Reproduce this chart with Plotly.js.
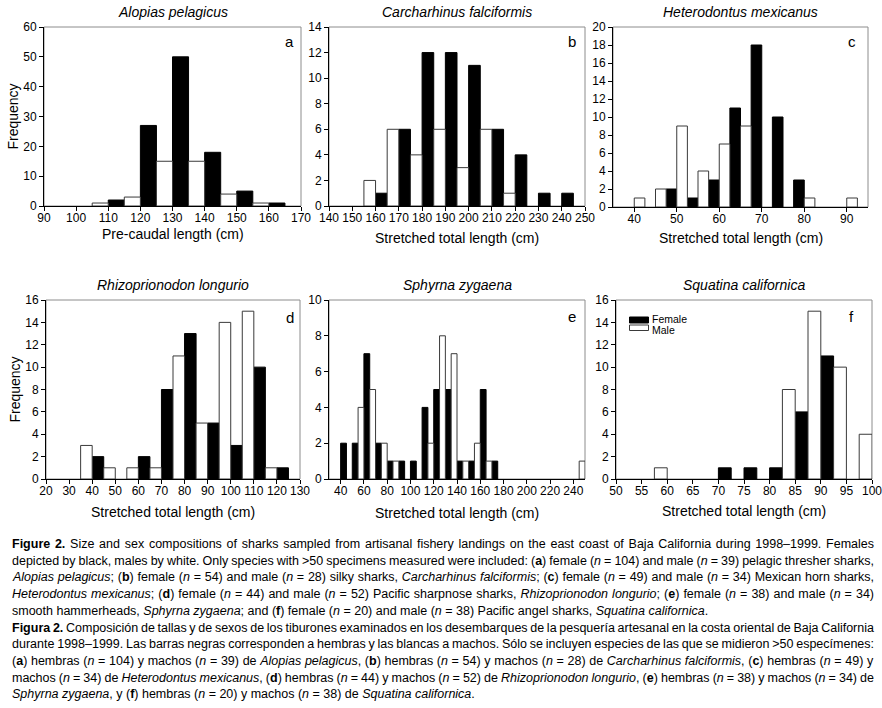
<!DOCTYPE html>
<html>
<head>
<meta charset="utf-8">
<script src="https://cdn.plot.ly/plotly-3.0.1.min.js"></script>
<style>
  html, body { margin: 0; padding: 0; background: #ffffff; }
  #chart { width: 882px; height: 708px; }
</style>
</head>
<body>
<div id="chart"></div>
<script>
// ---------------- DATA ----------------
// (a) Alopias pelagicus — pre-caudal length (cm)
const aMaleLen = [107.5, 117.5, 127.5, 137.5, 147.5, 157.5];
const aMaleFreq = [1, 3, 15, 15, 4, 1];
const aFemaleLen = [112.5, 122.5, 132.5, 142.5, 152.5, 162.5];
const aFemaleFreq = [2, 27, 50, 18, 5, 1];

// (b) Carcharhinus falciformis — stretched total length (cm)
const bMaleLen = [157.5, 167.5, 177.5, 187.5, 197.5, 207.5, 217.5];
const bMaleFreq = [2, 6, 4, 6, 3, 6, 1];
const bFemaleLen = [162.5, 172.5, 182.5, 192.5, 202.5, 212.5, 222.5, 232.5, 242.5];
const bFemaleFreq = [1, 6, 12, 12, 11, 6, 4, 1, 1];

// (c) Heterodontus mexicanus
const cMaleLen = [41.25, 46.25, 51.25, 56.25, 61.25, 66.25, 81.25, 91.25];
const cMaleFreq = [1, 2, 9, 4, 7, 9, 1, 1];
const cFemaleLen = [48.75, 53.75, 58.75, 63.75, 68.75, 73.75, 78.75];
const cFemaleFreq = [2, 1, 3, 11, 18, 10, 3];

// (d) Rhizoprionodon longurio
const dMaleLen = [37.5, 47.5, 57.5, 67.5, 77.5, 87.5, 97.5, 107.5, 117.5];
const dMaleFreq = [3, 1, 1, 1, 11, 5, 14, 15, 1];
const dFemaleLen = [42.5, 62.5, 72.5, 82.5, 92.5, 102.5, 112.5, 122.5];
const dFemaleFreq = [2, 2, 8, 13, 5, 3, 10, 1];

// (e) Sphyrna zygaena
const eFemaleLen = [42.5, 52.5, 62.5, 72.5, 82.5, 92.5, 102.5, 112.5, 122.5, 132.5, 142.5, 152.5, 162.5, 172.5];
const eFemaleFreq = [2, 2, 7, 2, 1, 1, 1, 4, 5, 5, 1, 1, 5, 1];
const eMaleLen = [57.5, 67.5, 77.5, 87.5, 117.5, 127.5, 137.5, 147.5, 157.5, 167.5, 247.5];
const eMaleFreq = [4, 5, 2, 1, 2, 8, 7, 1, 2, 1, 1];

// (f) Squatina californica
const fFemaleLen = [71.25, 76.25, 81.25, 86.25, 91.25];
const fFemaleFreq = [1, 1, 1, 6, 11];
const fMaleLen = [58.75, 83.75, 88.75, 93.75, 98.75];
const fMaleFreq = [1, 8, 15, 10, 4];

const speciesNames = ['Alopias pelagicus', 'Carcharhinus falciformis', 'Heterodontus mexicanus',
                      'Rhizoprionodon longurio', 'Sphyrna zygaena', 'Squatina californica'];
const panelLetters = ['a', 'b', 'c', 'd', 'e', 'f'];
const xTitles = ['Pre-caudal length (cm)', 'Stretched total length (cm)', 'Stretched total length (cm)',
                 'Stretched total length (cm)', 'Stretched total length (cm)', 'Stretched total length (cm)'];
const yTitle = 'Frequency';
const legendNames = ['Female', 'Male'];

const captionLines = [
  '<b>Figure 2.</b> Size and sex compositions of sharks sampled from artisanal fishery landings on the east coast of Baja California during 1998–1999. Females',
  'depicted by black, males by white. Only species with &gt;50 specimens measured were included: (<b>a</b>) female (<i>n</i> = 104) and male (<i>n</i> = 39) pelagic thresher sharks,',
  '<i>Alopias pelagicus</i>; (<b>b</b>) female (<i>n</i> = 54) and male (<i>n</i> = 28) silky sharks, <i>Carcharhinus falciformis</i>; (<b>c</b>) female (<i>n</i> = 49) and male (<i>n</i> = 34) Mexican horn sharks,',
  '<i>Heterodontus mexicanus</i>; (<b>d</b>) female (<i>n</i> = 44) and male (<i>n</i> = 52) Pacific sharpnose sharks, <i>Rhizoprionodon longurio</i>; (<b>e</b>) female (<i>n</i> = 38) and male (<i>n</i> = 34)',
  'smooth hammerheads, <i>Sphyrna zygaena</i>; and (<b>f</b>) female (<i>n</i> = 20) and male (<i>n</i> = 38) Pacific angel sharks, <i>Squatina californica</i>.',
  '<b>Figura 2.</b> Composición de tallas y de sexos de los tiburones examinados en los desembarques de la pesquería artesanal en la costa oriental de Baja California',
  'durante 1998–1999. Las barras negras corresponden a hembras y las blancas a machos. Sólo se incluyen especies de las que se midieron &gt;50 especímenes:',
  '(<b>a</b>) hembras (<i>n</i> = 104) y machos (<i>n</i> = 39) de <i>Alopias pelagicus</i>, (<b>b</b>) hembras (<i>n</i> = 54) y machos (<i>n</i> = 28) de <i>Carcharhinus falciformis</i>, (<b>c</b>) hembras (<i>n</i> = 49) y',
  'machos (<i>n</i> = 34) de <i>Heterodontus mexicanus</i>, (<b>d</b>) hembras (<i>n</i> = 44) y machos (<i>n</i> = 52) de <i>Rhizoprionodon longurio</i>, (<b>e</b>) hembras (<i>n</i> = 38) y machos (<i>n</i> = 34) de',
  '<i>Sphyrna zygaena</i>, y (<b>f</b>) hembras (<i>n</i> = 20) y machos (<i>n</i> = 38) de <i>Squatina californica</i>.'
];
const justifiedLines = [true, true, true, true, false, true, true, true, true, false];

// ---------------- LAYOUT / STYLE ----------------
const W = 882, H = 708;
const SANS = '"Liberation Sans", Arial, sans-serif';

const panelData = [
  { male: [aMaleLen, aMaleFreq], female: [aFemaleLen, aFemaleFreq] },
  { male: [bMaleLen, bMaleFreq], female: [bFemaleLen, bFemaleFreq] },
  { male: [cMaleLen, cMaleFreq], female: [cFemaleLen, cFemaleFreq] },
  { male: [dMaleLen, dMaleFreq], female: [dFemaleLen, dFemaleFreq] },
  { male: [eMaleLen, eMaleFreq], female: [eFemaleLen, eFemaleFreq] },
  { male: [fMaleLen, fMaleFreq], female: [fFemaleLen, fFemaleFreq] }
];

const panelGeom = [
  { x: [44, 301], y: [27, 206], xr: [90, 170], xdt: 10, yr: [0, 60], ydt: 10, bw: 5, letter: [0.957, 0.918], xtY: 234, ytitle: true },
  { x: [329, 585], y: [27, 206], xr: [140, 250], xdt: 10, yr: [0, 14], ydt: 2, bw: 5, letter: [0.948, 0.918], xtY: 238, ytitle: false },
  { x: [613, 868], y: [27, 207], xr: [35, 95], xdt: 10, yr: [0, 20], ydt: 2, bw: 2.5, letter: [0.938, 0.918], xtY: 238, ytitle: false },
  { x: [46, 300], y: [300, 479], xr: [20, 130], xdt: 10, yr: [0, 16], ydt: 2, bw: 5, letter: [0.96, 0.90], xtY: 512, ytitle: true },
  { x: [329, 585], y: [300, 479], xr: [30, 250], xdt: 20, yr: [0, 10], ydt: 2, bw: 5, letter: [0.948, 0.906], xtY: 513, ytitle: false },
  { x: [616, 872], y: [300, 479], xr: [50, 100], xdt: 5, yr: [0, 16], ydt: 2, bw: 2.5, letter: [0.92, 0.906], xtY: 511, ytitle: false }
];

const traces = [];
const layout = {
  width: W, height: H,
  margin: { l: 0, r: 0, t: 0, b: 0 },
  paper_bgcolor: '#ffffff', plot_bgcolor: '#ffffff',
  barmode: 'overlay',
  showlegend: false,
  annotations: [],
  shapes: [],
  font: { family: SANS, color: '#000' }
};

panelGeom.forEach((g, i) => {
  const n = i + 1;
  const xa = n === 1 ? 'x' : 'x' + n;
  const ya = n === 1 ? 'y' : 'y' + n;
  const xKey = n === 1 ? 'xaxis' : 'xaxis' + n;
  const yKey = n === 1 ? 'yaxis' : 'yaxis' + n;
  const d = panelData[i];

  traces.push({
    type: 'bar', x: d.female[0], y: d.female[1], width: g.bw,
    xaxis: xa, yaxis: ya, name: legendNames[0],
    marker: { color: '#000000', line: { color: '#000000', width: 1 } },
    hoverinfo: 'x+y'
  });
  traces.push({
    type: 'bar', x: d.male[0], y: d.male[1], width: g.bw,
    xaxis: xa, yaxis: ya, name: legendNames[1],
    marker: { color: '#ffffff', line: { color: '#3a3a3a', width: 1 } },
    hoverinfo: 'x+y'
  });

  layout[xKey] = {
    domain: [g.x[0] / W, g.x[1] / W], anchor: ya,
    range: g.xr, dtick: g.xdt, tick0: 0, tickmode: 'linear',
    showgrid: false, zeroline: false,
    showline: true, linecolor: '#000', linewidth: 1,
    ticks: 'outside', ticklen: 4, tickcolor: '#000', tickangle: 0,
    ticklabeloverflow: 'allow', ticklabelstandoff: -3,
    tickfont: { family: SANS, size: 12, color: '#000' },
    automargin: false, fixedrange: true
  };
  layout[yKey] = {
    domain: [1 - g.y[1] / H, 1 - g.y[0] / H], anchor: xa,
    range: g.yr, dtick: g.ydt, tick0: 0, tickmode: 'linear',
    showgrid: false, zeroline: false,
    showline: true, linecolor: '#000', linewidth: 1,
    ticks: 'outside', ticklen: 4, tickcolor: '#000',
    ticklabeloverflow: 'allow',
    tickfont: { family: SANS, size: 12, color: '#000' },
    title: { text: g.ytitle ? yTitle : '', font: { family: SANS, size: 14, color: '#000' }, standoff: 1 },
    automargin: false, fixedrange: true
  };

  // grey frame around the plot area
  layout.shapes.push({
    type: 'rect', xref: xa + ' domain', yref: ya + ' domain',
    x0: 0, x1: 1, y0: 0, y1: 1,
    line: { color: '#8c8c8c', width: 1 }, fillcolor: 'rgba(0,0,0,0)', layer: 'below'
  });

  // species title
  layout.annotations.push({
    xref: xa + ' domain', yref: ya + ' domain', x: 0.5, y: 1,
    xanchor: 'center', yanchor: 'bottom', yshift: 5, showarrow: false,
    text: '<i>' + speciesNames[i] + '</i>',
    font: { family: SANS, size: 14, color: '#000' }
  });
  // panel letter
  layout.annotations.push({
    xref: xa + ' domain', yref: ya + ' domain', x: g.letter[0], y: g.letter[1],
    xanchor: 'center', yanchor: 'middle', showarrow: false,
    text: panelLetters[i],
    font: { family: SANS, size: 15, color: '#000' }
  });
  // x-axis title
  layout.annotations.push({
    xref: xa + ' domain', yref: 'paper', x: 0.5, y: 1 - g.xtY / H,
    xanchor: 'center', yanchor: 'middle', showarrow: false,
    text: xTitles[i],
    font: { family: SANS, size: 14, color: '#000' }
  });
});

// key (legend) inside panel f
const keyItems = [
  { name: legendNames[0], fill: '#000000', line: '#000000', y0: 317, y1: 323, ty: 319 },
  { name: legendNames[1], fill: '#ffffff', line: '#3a3a3a', y0: 325, y1: 330.5, ty: 329.5 }
];
keyItems.forEach(k => {
  layout.shapes.push({
    type: 'rect', xref: 'paper', yref: 'paper',
    x0: 629.5 / W, x1: 648.5 / W, y0: 1 - k.y1 / H, y1: 1 - k.y0 / H,
    line: { color: k.line, width: 1 }, fillcolor: k.fill, layer: 'above'
  });
  layout.annotations.push({
    xref: 'paper', yref: 'paper', x: 649.5 / W, y: 1 - k.ty / H,
    xanchor: 'left', yanchor: 'middle', showarrow: false,
    text: k.name, font: { family: SANS, size: 10.5, color: '#000' }
  });
});

const nBeforeCaption = layout.annotations.length;

// caption lines
const CAP_TOP = 544, CAP_STEP = 16.7;
captionLines.forEach((t, k) => {
  layout.annotations.push({
    xref: 'paper', yref: 'paper', x: 10 / W, y: 1 - (CAP_TOP + k * CAP_STEP) / H,
    xanchor: 'left', yanchor: 'middle', align: 'left', showarrow: false,
    text: t, font: { family: SANS, size: 12.5, color: '#000' }
  });
});

Plotly.newPlot('chart', traces, layout, { displayModeBar: false, staticPlot: true }).then(gd => {
  // justify caption lines by widening the word spacing
  const RIGHT = 872, LEFT = 10;
  gd.querySelectorAll('.annotation').forEach(a => {
    const idx = +a.getAttribute('data-index');
    const k = idx - nBeforeCaption;
    if (k < 0 || !justifiedLines[k]) return;
    const txt = a.querySelector('.annotation-text');
    if (!txt) return;
    const w = txt.getBBox().width;
    const spaces = (txt.textContent.match(/ /g) || []).length;
    if (spaces > 0) {
      const extra = (RIGHT - LEFT - w) / spaces;
      txt.style.wordSpacing = extra.toFixed(3) + 'px';
    }
  });
});
</script>
</body>
</html>
